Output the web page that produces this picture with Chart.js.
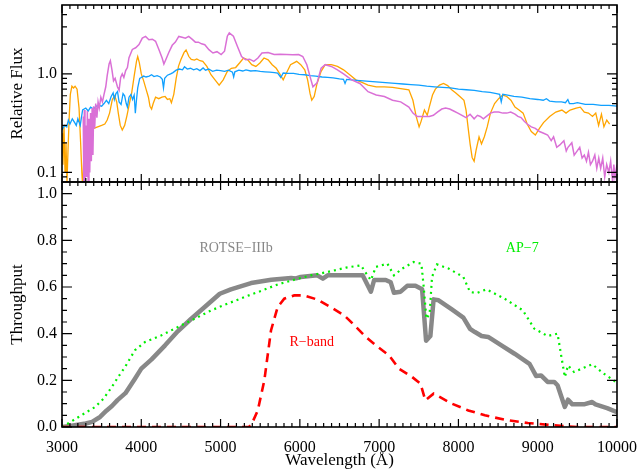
<!DOCTYPE html>
<html>
<head>
<meta charset="utf-8">
<script src="https://cdn.jsdelivr.net/npm/chart.js@4.4.0/dist/chart.umd.min.js"></script>
<style>
  body { margin: 0; background: #fff; }
  #wrap { position: relative; width: 642px; height: 472px; }
  #wrap canvas { position: absolute; left: 0; top: 0; }
</style>
</head>
<body>
<div id="wrap">
  <canvas id="fluxChart" width="642" height="472"></canvas>
  <canvas id="thruChart" width="642" height="472"></canvas>
</div>
<script>
// ============================================================
// DATA - top panel (relative flux, log)
// ============================================================

const blueWave = [3000,3030,3060,3080,3100,3130,3160,3180,3200,3230,3260,3300,3330,3360,3400,3430,3460,3500,3530,3560,3590,3620,3645,3660,3680,3700,3720,3745,3770,3790,3810,3825,3845,3870,3890,3910,3925,3940,3955,3980,4000,4030,4060,4100,4130,4160,4200,4240,4265,4280,4295,4330,4370,4400,4440,4480,4520,4545,4580,4620,4660,4700,4740,4780,4810,4850,4900,4950,5000,5050,5100,5150,5165,5180,5230,5280,5320,5380,5440,5500,5560,5620,5680,5720,5760,5790,5850,5920,5990,6060,6130,6200,6280,6350,6420,6500,6550,6570,6590,6650,6720,6800,6880,6960,7040,7120,7200,7300,7400,7500,7600,7700,7800,7900,8000,8100,8200,8300,8400,8480,8520,8540,8560,8620,8700,8800,8900,9000,9070,9110,9150,9230,9300,9350,9380,9400,9450,9500,9600,9700,9800,9900,10000];
const blueFlux = [0.27,0.30,0.29,0.34,0.31,0.35,0.32,0.30,0.35,0.30,0.43,0.45,0.42,0.46,0.44,0.47,0.48,0.47,0.50,0.54,0.50,0.59,0.64,0.55,0.63,0.66,0.52,0.49,0.63,0.60,0.50,0.46,0.58,0.62,0.55,0.61,0.40,0.55,0.72,0.90,0.92,0.95,0.93,0.95,0.98,0.94,0.96,0.93,0.88,0.72,0.90,0.97,1.00,1.03,1.09,1.12,1.10,1.18,1.12,1.14,1.10,1.13,1.08,1.15,1.09,1.12,1.06,1.09,1.08,1.06,1.09,1.04,0.93,1.05,1.09,1.07,1.10,1.07,1.08,1.06,1.05,1.04,1.03,1.02,0.92,1.02,1.01,1.01,0.99,0.98,0.96,0.95,0.93,0.92,0.91,0.89,0.88,0.80,0.88,0.87,0.86,0.85,0.84,0.83,0.82,0.81,0.80,0.79,0.78,0.77,0.75,0.74,0.73,0.72,0.70,0.69,0.68,0.66,0.65,0.63,0.62,0.52,0.62,0.61,0.59,0.58,0.56,0.55,0.54,0.56,0.53,0.52,0.52,0.51,0.55,0.50,0.50,0.51,0.49,0.49,0.48,0.48,0.47];

const orangeWave = [3000,3012,3025,3038,3050,3063,3075,3090,3105,3125,3145,3165,3190,3215,3235,3250,3262,3280,3300,3330,3360,3400,3450,3500,3540,3570,3600,3635,3665,3690,3710,3735,3760,3790,3820,3850,3880,3910,3940,3955,3975,4000,4030,4060,4090,4110,4130,4150,4180,4220,4260,4300,4330,4360,4380,4410,4440,4470,4500,4540,4565,4600,4630,4670,4700,4740,4776,4827,4879,4930,4982,5033,5085,5136,5190,5239,5290,5342,5393,5445,5496,5548,5600,5651,5702,5754,5790,5831,5882,5960,6011,6062,6098,6129,6150,6181,6217,6268,6320,6397,6474,6551,6629,6706,6783,6860,6963,7066,7169,7272,7375,7426,7467,7504,7529,7571,7607,7632,7673,7709,7761,7812,7864,7915,7967,8018,8070,8096,8121,8147,8173,8198,8224,8260,8291,8327,8363,8404,8456,8507,8559,8610,8662,8713,8765,8816,8867,8919,8970,9022,9073,9151,9228,9305,9357,9408,9485,9537,9588,9640,9691,9732,9768,9804,9835,9871,9907];
const orangeFlux = [0.25,0.12,0.30,0.10,0.20,0.08,0.16,0.35,0.62,0.75,0.72,0.75,0.70,0.45,0.20,0.10,0.07,0.20,0.28,0.25,0.27,0.28,0.29,0.30,0.31,0.34,0.40,0.55,0.60,0.52,0.40,0.30,0.27,0.30,0.38,0.50,0.65,0.95,1.35,1.50,1.30,1.00,0.85,0.70,0.58,0.47,0.44,0.50,0.58,0.56,0.58,0.59,0.55,0.56,0.51,0.62,0.90,1.20,1.40,1.65,1.75,1.50,1.40,1.38,1.42,1.36,1.34,1.19,0.98,0.87,0.77,0.87,1.06,1.14,1.16,1.29,1.45,1.39,1.24,1.19,1.29,1.45,1.39,1.24,1.14,0.98,0.87,1.02,1.24,1.34,1.24,1.10,0.87,0.63,0.54,0.59,0.80,1.06,1.24,1.24,1.19,1.10,0.98,0.87,0.82,0.77,0.74,0.74,0.73,0.71,0.69,0.54,0.37,0.29,0.33,0.43,0.38,0.46,0.61,0.70,0.77,0.80,0.76,0.69,0.64,0.59,0.54,0.43,0.29,0.195,0.142,0.13,0.17,0.23,0.195,0.23,0.29,0.40,0.50,0.56,0.61,0.59,0.54,0.46,0.43,0.40,0.31,0.26,0.24,0.28,0.32,0.37,0.41,0.43,0.40,0.43,0.45,0.46,0.41,0.40,0.37,0.40,0.30,0.39,0.29,0.34,0.31];

const magentaWave = [3268,3275,3282,3290,3300,3310,3320,3330,3340,3350,3360,3370,3380,3390,3400,3412,3425,3440,3455,3470,3490,3510,3530,3552,3570,3594,3610,3630,3650,3670,3699,3720,3740,3760,3780,3803,3825,3845,3887,3929,3971,4013,4054,4096,4140,4180,4222,4264,4285,4310,4347,4390,4430,4473,4515,4557,4598,4640,4682,4720,4760,4801,4853,4904,4955,5007,5050,5085,5110,5162,5213,5265,5316,5367,5419,5471,5522,5599,5676,5750,5831,5910,5985,6037,6088,6140,6165,6217,6268,6320,6397,6474,6551,6654,6757,6860,6963,7066,7169,7272,7375,7426,7478,7555,7632,7684,7735,7790,7838,7890,7940,7993,8045,8096,8147,8198,8240,8276,8315,8353,8404,8450,8507,8560,8610,8660,8713,8750,8790,8830,8867,8919,8970,9022,9075,9125,9170,9200,9240,9279,9330,9360,9382,9430,9460,9485,9530,9560,9588,9615,9640,9665,9691,9720,9745,9770,9794,9820,9845,9870,9897,9920,9945,9960,9975,10000];
const magentaFlux = [0.37,0.08,0.43,0.07,0.30,0.09,0.42,0.08,0.35,0.10,0.40,0.13,0.45,0.15,0.47,0.28,0.50,0.36,0.52,0.45,0.58,0.52,0.62,0.74,0.96,1.26,1.36,1.10,0.85,0.90,0.74,0.68,0.92,1.00,0.92,1.08,1.16,1.46,1.77,1.84,1.98,2.31,2.40,2.22,2.25,2.14,1.77,1.44,1.26,1.40,1.65,1.95,2.10,2.40,2.35,2.30,2.40,2.25,2.10,2.10,2.02,1.98,1.76,1.63,1.68,1.57,1.70,2.41,2.61,2.41,1.90,1.50,1.39,1.41,1.34,1.45,1.63,1.65,1.57,1.58,1.57,1.56,1.57,1.50,1.24,0.87,0.74,0.81,1.14,1.24,1.19,1.10,1.00,0.87,0.80,0.66,0.61,0.59,0.54,0.52,0.46,0.40,0.37,0.37,0.37,0.38,0.41,0.44,0.45,0.44,0.42,0.40,0.38,0.36,0.39,0.35,0.38,0.37,0.35,0.37,0.40,0.41,0.41,0.40,0.40,0.41,0.39,0.37,0.36,0.33,0.31,0.29,0.28,0.26,0.25,0.24,0.21,0.23,0.18,0.19,0.21,0.165,0.18,0.20,0.15,0.16,0.18,0.14,0.15,0.13,0.16,0.12,0.13,0.15,0.11,0.14,0.11,0.14,0.09,0.12,0.10,0.13,0.08,0.12,0.09,0.12];

// ============================================================
// DATA - bottom panel (throughput)
// ============================================================

const rotseWave = [3000,3100,3200,3300,3380,3480,3560,3630,3700,3800,3920,4000,4130,4300,4460,4630,4800,4990,5130,5385,5640,5890,5950,6010,6220,6290,6350,6560,6792,6896,6937,7083,7146,7187,7271,7354,7458,7542,7592,7646,7687,7750,7917,8062,8146,8208,8292,8375,8542,8708,8896,8979,9042,9125,9208,9250,9342,9383,9437,9583,9687,9729,9875,10000];
const rotseThru = [0.0,0.004,0.01,0.015,0.022,0.043,0.07,0.09,0.115,0.145,0.207,0.25,0.29,0.35,0.41,0.464,0.514,0.571,0.59,0.617,0.631,0.639,0.637,0.643,0.65,0.636,0.65,0.65,0.65,0.58,0.63,0.63,0.62,0.575,0.58,0.605,0.605,0.59,0.37,0.39,0.547,0.543,0.504,0.469,0.421,0.407,0.39,0.386,0.35,0.314,0.271,0.219,0.221,0.193,0.193,0.179,0.086,0.117,0.097,0.097,0.107,0.097,0.081,0.064];

const ap7Wave = [3000,3100,3209,3418,3520,3628,3710,3795,3920,4046,4255,4464,4674,4883,5092,5301,5510,5720,5929,6138,6347,6583,6771,6825,6896,6958,7104,7187,7292,7437,7533,7562,7596,7637,7667,7729,7875,8062,8146,8229,8354,8583,8812,8958,9125,9250,9292,9342,9383,9458,9687,9833,10000];
const ap7Thru = [0.0,0.02,0.043,0.086,0.12,0.171,0.215,0.257,0.329,0.364,0.393,0.429,0.464,0.50,0.529,0.557,0.583,0.611,0.631,0.65,0.664,0.683,0.693,0.664,0.629,0.686,0.70,0.65,0.679,0.707,0.70,0.60,0.464,0.486,0.643,0.697,0.679,0.643,0.579,0.574,0.59,0.55,0.50,0.421,0.39,0.40,0.314,0.214,0.264,0.236,0.269,0.229,0.19];

const rbandWave = [3000,5350,5385,5469,5552,5636,5720,5803,5929,6054,6222,6389,6556,6625,6833,6958,7125,7250,7417,7521,7583,7687,7917,8125,8333,8583,8875,9208,9500,10000];
const rbandThru = [0,0,0.007,0.071,0.20,0.414,0.514,0.55,0.564,0.564,0.546,0.514,0.479,0.457,0.386,0.35,0.307,0.25,0.214,0.186,0.114,0.143,0.10,0.071,0.05,0.031,0.017,0.007,0,0];

// tick labels
const xTickLabels = [3000, 4000, 5000, 6000, 7000, 8000, 9000, 10000];
const fluxTickLabels = [0.1, 1.0];
const thruTickLabels = [0.0, 0.2, 0.4, 0.6, 0.8, 1.0];

// curve names in the bottom panel
const curveNames = ['ROTSE\u2212IIIb', 'AP\u22127', 'R\u2212band'];

// ============================================================
// HELPERS
// ============================================================

const FONT = 'Liberation Serif';

function toPoints(xs, ys) {
    return xs.map((x, i) => ({ x: x, y: ys[i] }));
}

// inward ticks on all four sides + black frame
const frameTicks = {
    id: 'frameTicks',
    afterDatasetsDraw(chart, args, opts) {
        const ctx = chart.ctx;
        const a = chart.chartArea;
        const x = chart.scales.x;
        const y = chart.scales.y;
        ctx.save();
        ctx.strokeStyle = '#000';
        ctx.lineWidth = 1.2;
        ctx.beginPath();
        for (let w = 3000; w <= 10000; w += 100) {
            const px = x.getPixelForValue(w);
            const len = w % 1000 === 0 ? 8 : 4;
            ctx.moveTo(px, a.bottom); ctx.lineTo(px, a.bottom - len);
            ctx.moveTo(px, a.top); ctx.lineTo(px, a.top + len);
        }
        opts.yTicks.forEach(t => {
            const py = y.getPixelForValue(t.v);
            const len = t.major ? 10 : 5;
            ctx.moveTo(a.left, py); ctx.lineTo(a.left + len, py);
            ctx.moveTo(a.right, py); ctx.lineTo(a.right - len, py);
        });
        ctx.stroke();
        ctx.lineWidth = 1.6;
        ctx.strokeRect(a.left, a.top, a.right - a.left, a.bottom - a.top);
        ctx.restore();
    }
};

// axis titles and curve names
const textLabels = {
    id: 'textLabels',
    afterDraw(chart, args, opts) {
        const ctx = chart.ctx;
        const a = chart.chartArea;
        ctx.save();
        ctx.fillStyle = '#000';
        ctx.textAlign = 'center';
        ctx.textBaseline = 'middle';
        ctx.font = '17px "' + FONT + '"';
        ctx.save();
        ctx.translate(18, (a.top + a.bottom) / 2);
        ctx.rotate(-Math.PI / 2);
        ctx.fillText(opts.yTitle, 0, 0);
        ctx.restore();
        if (opts.xTitle) {
            ctx.fillText(opts.xTitle, (a.left + a.right) / 2, 461);
        }
        (opts.notes || []).forEach(n => {
            ctx.font = '14px "' + FONT + '"';
            ctx.fillStyle = n.color;
            ctx.fillText(n.text, chart.scales.x.getPixelForValue(n.x), chart.scales.y.getPixelForValue(n.y));
        });
        ctx.restore();
    }
};

const fluxYTicks = [];
[0.09, 0.2, 0.3, 0.4, 0.5, 0.6, 0.7, 0.8, 0.9, 2, 3, 4].forEach(v => fluxYTicks.push({ v: v, major: false }));
fluxYTicks.push({ v: 0.1, major: true }, { v: 1, major: true });

const thruYTicks = [];
for (let i = 0; i <= 20; i++) thruYTicks.push({ v: i * 0.05, major: i % 4 === 0 });

function yAxisBase() {
    return {
        grid: { display: false, drawTicks: false },
        border: { display: false },
        afterFit: s => {
            s.width = 62;
            s.paddingTop = 0;
            s.paddingBottom = 0;
        },
        ticks: {
            color: '#000',
            padding: 5,
            font: { family: FONT, size: 16 },
            callback: v => Number(v).toFixed(1)
        }
    };
}

// ============================================================
// TOP PANEL
// ============================================================

new Chart(document.getElementById('fluxChart'), {
    type: 'line',
    data: {
        datasets: [
            { data: toPoints(magentaWave, magentaFlux), borderColor: '#da70d6', borderWidth: 1.5 },
            { data: toPoints(blueWave, blueFlux), borderColor: '#10a0ff', borderWidth: 1.3 },
            { data: toPoints(orangeWave, orangeFlux), borderColor: '#ffa500', borderWidth: 1.3 }
        ]
    },
    options: {
        responsive: false,
        devicePixelRatio: 1,
        animation: false,
        events: [],
        layout: { padding: { top: 5, bottom: 290, left: 0, right: 25 } },
        elements: { point: { radius: 0 }, line: { tension: 0 } },
        scales: {
            x: { type: 'linear', min: 3000, max: 10000, display: false },
            y: Object.assign(yAxisBase(), {
                type: 'logarithmic', min: 0.08, max: 5,
                afterBuildTicks: s => { s.ticks = fluxTickLabels.map(v => ({ value: v })); }
            })
        },
        plugins: {
            legend: { display: false },
            tooltip: { enabled: false },
            frameTicks: { yTicks: fluxYTicks },
            textLabels: { yTitle: 'Relative Flux' }
        }
    },
    plugins: [frameTicks, textLabels]
});

// ============================================================
// BOTTOM PANEL
// ============================================================

new Chart(document.getElementById('thruChart'), {
    type: 'line',
    data: {
        datasets: [
            { data: toPoints(rbandWave, rbandThru), borderColor: '#ff0000', borderWidth: 2.6, borderDash: [9, 6] },
            { data: toPoints(ap7Wave, ap7Thru), borderColor: '#00ee00', borderWidth: 2.2, borderDash: [2, 4] },
            { data: toPoints(rotseWave, rotseThru), borderColor: '#888888', borderWidth: 4.5, borderJoinStyle: 'round' }
        ]
    },
    options: {
        responsive: false,
        devicePixelRatio: 1,
        animation: false,
        events: [],
        layout: { padding: { top: 182, bottom: 0, left: 0, right: 25 } },
        elements: { point: { radius: 0 }, line: { tension: 0 } },
        scales: {
            x: {
                type: 'linear', min: 3000, max: 10000,
                grid: { display: false },
                border: { display: false },
                afterFit: s => { s.height = 45; },
                afterBuildTicks: s => { s.ticks = xTickLabels.map(v => ({ value: v })); },
                ticks: {
                    color: '#000',
                    padding: 3,
                    maxRotation: 0,
                    autoSkip: false,
                    font: { family: FONT, size: 16 },
                    callback: v => String(v)
                }
            },
            y: Object.assign(yAxisBase(), {
                type: 'linear', min: 0, max: 1.05,
                afterBuildTicks: s => { s.ticks = thruTickLabels.map(v => ({ value: v })); }
            })
        },
        plugins: {
            legend: { display: false },
            tooltip: { enabled: false },
            frameTicks: { yTicks: thruYTicks },
            textLabels: {
                yTitle: 'Throughput',
                xTitle: 'Wavelength (\u00c5)',
                notes: [
                    { text: curveNames[0], x: 5195, y: 0.765, color: '#888888' },
                    { text: curveNames[1], x: 8805, y: 0.765, color: '#00ee00' },
                    { text: curveNames[2], x: 6150, y: 0.365, color: '#ff0000' }
                ]
            }
        }
    },
    plugins: [frameTicks, textLabels]
});
</script>
</body>
</html>
